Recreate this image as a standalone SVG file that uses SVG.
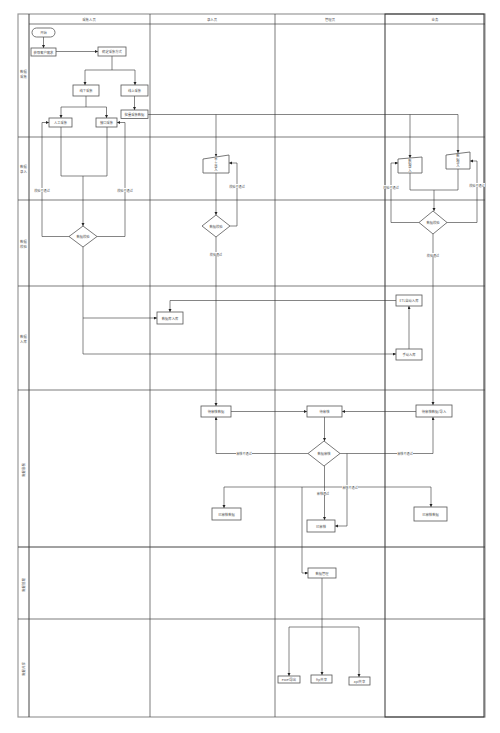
<svg xmlns="http://www.w3.org/2000/svg" width="500" height="733" viewBox="0 0 500 733">
<style>
.lane{stroke:#444;stroke-width:0.7;fill:none}
.lt{stroke:#999;stroke-width:1.2;fill:none}
.n{fill:#fff;stroke:#555;stroke-width:0.8}
.c{stroke:#333;stroke-width:0.6;fill:none}
.t{font-family:"Noto Sans CJK SC","Liberation Sans",sans-serif;font-size:3.3px;fill:#555;text-anchor:middle;dominant-baseline:central}
.h{font-family:"Noto Sans CJK SC","Liberation Sans",sans-serif;font-size:3.4px;fill:#555;text-anchor:middle;dominant-baseline:central}
.lb{font-family:"Noto Sans CJK SC","Liberation Sans",sans-serif;font-size:3.1px;fill:#555;text-anchor:middle;dominant-baseline:central}
.bg{fill:#fff}
</style>
<defs>
<marker id="a" markerUnits="userSpaceOnUse" markerWidth="4" markerHeight="4" refX="3" refY="1.5" orient="auto"><path d="M0,0 L3,1.5 L0,3 Z" fill="#222"/></marker>
</defs>
<rect width="500" height="733" fill="#fff"/>
<g id="lanes">
<rect class="lt" x="18" y="14" width="467" height="703"/>
<line class="lane" x1="29" y1="24" x2="485" y2="24"/>
<line class="lane" x1="29" y1="14" x2="29" y2="717" style="stroke-width:1"/>
<line class="lane" x1="150" y1="14" x2="150" y2="717"/>
<line class="lane" x1="275" y1="14" x2="275" y2="717"/>
<rect x="385" y="14" width="99" height="703" fill="none" stroke="#333" stroke-width="1"/>
<line class="lane" x1="18" y1="137" x2="485" y2="137"/>
<line class="lane" x1="18" y1="200" x2="485" y2="200"/>
<line class="lane" x1="18" y1="286" x2="485" y2="286"/>
<line class="lane" x1="18" y1="390" x2="485" y2="390"/>
<line class="lane" x1="18" y1="547" x2="485" y2="547" style="stroke-width:1"/>
<line class="lane" x1="18" y1="619" x2="485" y2="619"/>
<text class="h" x="89" y="19">采集人员</text>
<text class="h" x="212" y="19">录入员</text>
<text class="h" x="330" y="19">管理员</text>
<text class="h" x="435" y="19">业务</text>
<text class="h" x="23.5" y="71">数据</text><text class="h" x="23.5" y="76">采集</text>
<text class="h" x="23.5" y="166">数据</text><text class="h" x="23.5" y="171">录入</text>
<text class="h" x="23.5" y="241">数据</text><text class="h" x="23.5" y="246">校验</text>
<text class="h" x="23.5" y="336">数据</text><text class="h" x="23.5" y="341">入库</text>
<text class="h" transform="translate(23.5,470) rotate(-90)">数据审核</text>
<text class="h" transform="translate(23.5,585) rotate(-90)">数据管理</text>
<text class="h" transform="translate(23.5,669) rotate(-90)">数据共享</text>
</g>
<g id="connectors">
<path class="c" marker-end="url(#a)" d="M43.5,37 V48"/>
<path class="c" marker-end="url(#a)" d="M56,51.5 H98"/>
<path class="c" marker-end="url(#a)" d="M112,56 V70 H85 V85"/>
<path class="c" marker-end="url(#a)" d="M112,70 H135 V85"/>
<path class="c" marker-end="url(#a)" d="M86,96 V107 H61 V118"/>
<path class="c" marker-end="url(#a)" d="M86,107 H106.5 V118"/>
<path class="c" marker-end="url(#a)" d="M134.5,96 V110"/>
<path class="c" marker-end="url(#a)" d="M148,114.5 H458 V153"/>
<path class="c" marker-end="url(#a)" d="M216,114.5 V156.5"/>
<path class="c" marker-end="url(#a)" d="M410,114.5 V158"/>
<path class="c" d="M61,127 V176 H107 V127"/>
<path class="c" marker-end="url(#a)" d="M83,176 V226"/>
<path class="c" marker-end="url(#a)" d="M70,236.5 H42 V122.5 H49"/>
<path class="c" marker-end="url(#a)" d="M97,236.5 H125 V122.5 H117"/>
<path class="c" marker-end="url(#a)" d="M83,247 V354 H396"/>
<path class="c" marker-end="url(#a)" d="M83,318 H157"/>
<path class="c" marker-end="url(#a)" d="M216,173 V215"/>
<path class="c" marker-end="url(#a)" d="M230,226 H237 V163 H229"/>
<path class="c" marker-end="url(#a)" d="M216,237 V406"/>
<path class="c" d="M410,173 V190 H458 V169"/>
<path class="c" marker-end="url(#a)" d="M434,190 V211"/>
<path class="c" marker-end="url(#a)" d="M419,222.5 H391 V163 H398"/>
<path class="c" marker-end="url(#a)" d="M447,222.5 H477 V161 H470"/>
<path class="c" marker-end="url(#a)" d="M433,234 V405"/>
<path class="c" marker-end="url(#a)" d="M396,300.5 H170 V312"/>
<path class="c" marker-end="url(#a)" d="M409,349 V306"/>
<path class="c" marker-end="url(#a)" d="M231,411.5 H307"/>
<path class="c" marker-end="url(#a)" d="M416,411.5 H342"/>
<path class="c" marker-end="url(#a)" d="M324.5,417 V441"/>
<path class="c" marker-end="url(#a)" d="M308,453.5 H216 V417"/>
<path class="c" marker-end="url(#a)" d="M340,453.5 H433 V417"/>
<path class="c" marker-end="url(#a)" d="M347,453.5 V526 H335"/>
<path class="c" marker-end="url(#a)" d="M324.5,466 V520"/>
<path class="c" marker-end="url(#a)" d="M302,487 H224 V508"/>
<path class="c" marker-end="url(#a)" d="M302,487 H431 V507"/>
<path class="c" marker-end="url(#a)" d="M302,487 V573 H308"/>
<path class="c" marker-end="url(#a)" d="M322,578 V675"/>
<path class="c" marker-end="url(#a)" d="M322,627 H289 V676"/>
<path class="c" marker-end="url(#a)" d="M322,627 H359 V677"/>
<g>
<rect class="bg" x="34" y="188" width="16" height="4"/><text class="lb" x="42" y="190">校验不通过</text>
<rect class="bg" x="117" y="188" width="16" height="4"/><text class="lb" x="125" y="190">校验不通过</text>
<rect class="bg" x="229" y="184" width="16" height="4"/><text class="lb" x="237" y="186">校验不通过</text>
<rect class="bg" x="383" y="185" width="16" height="4"/><text class="lb" x="391" y="187">校验不通过</text>
<rect class="bg" x="469" y="183" width="16" height="4"/><text class="lb" x="477" y="185">校验不通过</text>
<rect class="bg" x="209" y="252" width="14" height="4"/><text class="lb" x="216" y="254">校验通过</text>
<rect class="bg" x="426" y="253" width="14" height="4"/><text class="lb" x="433" y="255">校验通过</text>
<rect class="bg" x="236" y="451.5" width="16" height="4"/><text class="lb" x="244" y="453.5">审核不通过</text>
<rect class="bg" x="397" y="451.5" width="16" height="4"/><text class="lb" x="405" y="453.5">审核不通过</text>
<rect class="bg" x="342" y="485" width="16" height="4"/><text class="lb" x="350" y="487">审核不通过</text>
<rect class="bg" x="316" y="491" width="14" height="4"/><text class="lb" x="323" y="493">审核通过</text>
</g>
</g>
<g id="start"><rect class="n" x="32" y="28" width="23" height="9" rx="4.5"/><text class="t" x="43.5" y="32.5">开始</text></g>
<g id="n_demand"><rect class="n" x="31" y="48" width="25" height="8"/><text class="t" x="43.5" y="52">获取客户需求</text></g>
<g id="n_method"><rect class="n" x="98" y="47" width="28" height="9"/><text class="t" x="112" y="51.5">确定采集方式</text></g>
<g id="n_offline"><rect class="n" x="73" y="85" width="26" height="11"/><text class="t" x="86" y="90.5">线下采集</text></g>
<g id="n_online"><rect class="n" x="121" y="85" width="27" height="11"/><text class="t" x="134.5" y="90.5">线上采集</text></g>
<g id="n_manual"><rect class="n" x="49" y="118" width="23" height="9"/><text class="t" x="60.5" y="122.5">人工采集</text></g>
<g id="n_api"><rect class="n" x="96" y="118" width="21" height="9"/><text class="t" x="106.5" y="122.5">接口采集</text></g>
<g id="n_batch"><rect class="n" x="121" y="110" width="27" height="8.5"/><text class="t" x="134.5" y="114.5">批量采集数据</text></g>
<g id="d_check1"><polygon class="n" points="83,226 97,236.5 83,247 69,236.5"/><text class="t" x="83" y="236.5">数据校验</text></g>
<g id="t_input2"><polygon class="n" points="203,159 229,155 229,173 203,173"/><text class="t" x="216" y="165" style="writing-mode:vertical-rl">手工录入</text></g>
<g id="d_check2"><polygon class="n" points="216,215 230,226 216,237 202,226"/><text class="t" x="216" y="226">数据校验</text></g>
<g id="t_input4a"><polygon class="n" points="398,159 422,157 422,173 398,173"/><text class="t" x="410" y="165.5" style="writing-mode:vertical-rl">数据录入</text></g>
<g id="t_input4b"><polygon class="n" points="446,155 470,152 470,169 446,169"/><text class="t" x="458" y="161" style="writing-mode:vertical-rl">数据导入</text></g>
<g id="d_check4"><polygon class="n" points="433,211 447,222.5 433,234 419,222.5"/><text class="t" x="433" y="222.5">数据校验</text></g>
<g id="n_dbin"><rect class="n" x="157" y="312" width="26" height="12"/><text class="t" x="170" y="318">数据库入库</text></g>
<g id="n_etl"><rect class="n" x="396" y="295" width="26" height="11"/><text class="t" x="409" y="300.5">ETL自动入库</text></g>
<g id="n_hand"><rect class="n" x="396" y="349" width="26" height="11"/><text class="t" x="409" y="354.5">手动入库</text></g>
<g id="n_pend2"><rect class="n" x="201" y="406" width="30" height="11"/><text class="t" x="216" y="411.5">待审核数据</text></g>
<g id="n_pend3"><rect class="n" x="307" y="406" width="35" height="11"/><text class="t" x="324.5" y="411.5">待审核</text></g>
<g id="n_pend4"><rect class="n" x="416" y="405" width="36" height="12"/><text class="t" x="434" y="411">待审核数据/导入</text></g>
<g id="d_audit"><polygon class="n" points="324,441 340,453.5 324,466 308,453.5"/><text class="t" x="324" y="453.5">数据审核</text></g>
<g id="n_done2"><rect class="n" x="212" y="508" width="29" height="12"/><text class="t" x="226.5" y="514">已审核数据</text></g>
<g id="n_done3"><rect class="n" x="307" y="520" width="28" height="12"/><text class="t" x="321" y="526">已审核</text></g>
<g id="n_done4"><rect class="n" x="414" y="507" width="33" height="14"/><text class="t" x="430.5" y="514">已审核数据</text></g>
<g id="n_manage"><rect class="n" x="308" y="568" width="28" height="10"/><text class="t" x="322" y="573">数据管理</text></g>
<g id="n_excel"><rect class="n" x="278" y="676" width="22" height="7"/><text class="t" x="289" y="679.5">excel导出</text></g>
<g id="n_ftp"><rect class="n" x="311" y="675" width="21" height="8"/><text class="t" x="321.5" y="679">ftp共享</text></g>
<g id="n_apishare"><rect class="n" x="349" y="677" width="21" height="8"/><text class="t" x="359.5" y="681">api共享</text></g>
</svg>
